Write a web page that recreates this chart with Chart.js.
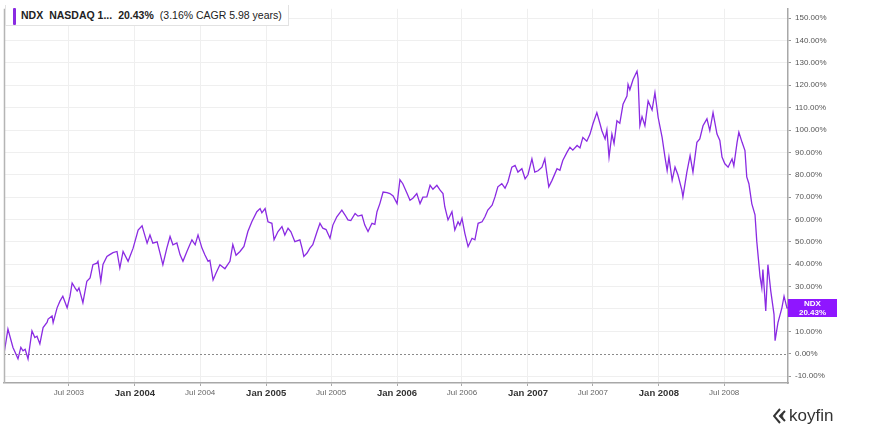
<!DOCTYPE html>
<html>
<head>
<meta charset="utf-8">
<script src="https://cdn.jsdelivr.net/npm/chart.js@4/dist/chart.umd.min.js"></script>
<style>
  body { margin: 0; background: #fff; font-family: "Liberation Sans", Arial, sans-serif; }
  #wrap { position: relative; width: 891px; height: 431px; }
  #legend {
    position: absolute; left: 5px; top: 5px; height: 20px; padding: 0 6px 0 7px;
    background: #fff; border: 1px solid #e2e2e2; border-top: none;
    font-size: 10.5px; color: #222; line-height: 20px; white-space: nowrap;
  }
  #legend .bar { display: inline-block; width: 3px; height: 17px; background: #8a2be2; vertical-align: middle; margin-right: 5px; border-radius: 1px; }
  #legend b { margin-right: 6px; }
  #logo { position: absolute; left: 773px; top: 406px; font-size: 17px; color: #333; display: flex; align-items: center; }
  #logo svg { margin-right: 2px; }
</style>
</head>
<body>
<div id="wrap">
  <canvas id="ndxChart"></canvas>
  <div id="legend"><span class="bar"></span><b>NDX</b><b>NASDAQ 1...</b><b>20.43%</b>(3.16% CAGR 5.98 years)</div>
  <div id="logo"><svg width="14" height="16" viewBox="0 0 14 16"><path d="M7 1 L1 8 L7 15 M12 3 L7 8 L12 13 M10 6 L8 8 L10 10" fill="none" stroke="#333" stroke-width="2"/></svg>koyfin</div>
</div>
<script>
/* DATA: days since 2003-01-01 and NDX % change */
var startDate = '2003-01-01';
var days = [0, 6, 11, 25, 31, 39, 47, 53, 59, 67, 78, 86, 92, 100, 109, 120, 123, 134, 137, 148,
	156, 164, 176, 184, 190, 198, 204, 209, 220, 231, 240, 248, 259, 262, 270, 276, 287, 296, 304, 315,
	323, 332, 346, 360, 374, 385, 388, 399, 407, 415, 427, 435, 443, 454, 463, 471, 482, 491, 499, 510,
	524, 533, 541, 552, 560, 569, 574, 583, 591, 602, 616, 630, 638, 647, 658, 669, 680, 691, 705, 714,
	719, 728, 736, 747, 753, 764, 775, 783, 792, 800, 811, 825, 831, 836, 845, 853, 861, 873, 881, 889,
	898, 909, 917, 928, 942, 951, 959, 967, 979, 987, 998, 1006, 1015, 1026, 1034, 1040, 1048, 1057, 1068, 1076,
	1085, 1096, 1104, 1112, 1124, 1132, 1140, 1151, 1160, 1168, 1179, 1188, 1196, 1207, 1216, 1224, 1229, 1238, 1249, 1257,
	1266, 1271, 1277, 1285, 1294, 1305, 1313, 1322, 1333, 1341, 1349, 1361, 1369, 1377, 1388, 1397, 1405, 1416, 1425, 1433,
	1444, 1453, 1461, 1472, 1480, 1489, 1500, 1508, 1514, 1519, 1528, 1542, 1550, 1558, 1570, 1578, 1586, 1598, 1606, 1614,
	1625, 1634, 1642, 1653, 1662, 1667, 1676, 1681, 1687, 1695, 1701, 1709, 1717, 1726, 1737, 1740, 1745, 1754, 1765, 1768,
	1773, 1779, 1787, 1796, 1807, 1815, 1824, 1835, 1843, 1849, 1854, 1863, 1871, 1879, 1890, 1893, 1904, 1913, 1921, 1932,
	1940, 1949, 1960, 1968, 1977, 1988, 1996, 2002, 2010, 2019, 2030, 2035, 2044, 2049, 2058, 2066, 2071, 2077, 2085, 2094,
	2099, 2108, 2113, 2116, 2124, 2130, 2138, 2147, 2150, 2158, 2169, 2175, 2183, 2186];
var ndx = [0, 6, 11, 2.8, 0.6, -2.3, 2.8, 1.3, 2.0, -2.3, 10.2, 7.2, 7.8, 4.4, 11.7, 14, 15.5, 16.9, 13.9, 20.5,
	23.5, 25.7, 20.5, 25.7, 31.6, 29.4, 28, 29.4, 22.8, 32.4, 33.9, 39.8, 40.5, 41.3, 32.4, 39.9, 43.5, 44.4, 45.2, 45.7,
	38.3, 45.7, 41.3, 47.2, 55.3, 57.2, 55.5, 49.4, 53.1, 49.4, 50, 45, 39.8, 47.2, 52.4, 48.7, 49.5, 44.2, 41.3, 45.7,
	50.9, 48.7, 53.1, 47.2, 44.2, 41.3, 41.8, 33.0, 36, 39.8, 38, 41.3, 48.8, 44, 45.7, 48, 54.6, 59, 63.5, 64.9,
	63, 64.9, 59, 58.3, 50.9, 54.6, 56.8, 53.1, 56.1, 54.5, 50.1, 50.9, 47.2, 43.5, 45, 47.2, 48.7, 54.6, 58.3, 56.1,
	55.5, 51.6, 57.5, 61.2, 64.2, 62, 59.8, 59.5, 62.7, 61.5, 62, 57.5, 54.6, 58.3, 57.8, 63.5, 67.1, 72.3, 72, 71.6,
	70.5, 67.1, 77.8, 76, 71.6, 68.6, 69.5, 71.6, 67.1, 70, 70.1, 75.3, 73.5, 75.3, 73.1, 71.6, 65.7, 59.8, 63.5, 55.3,
	59, 57.5, 60.5, 53.8, 47.9, 51.6, 50.9, 58.3, 59, 61.2, 64.2, 66.4, 70.1, 74.6, 76, 74, 76.8, 83.4, 84.2, 81.2,
	82.7, 78.2, 80, 87.1, 81.2, 81.8, 83.4, 87.1, 80, 74.6, 77.5, 82.7, 82, 86.4, 90.1, 92.3, 91, 93.1, 92, 96.7,
	95, 98.2, 102.7, 107.8, 102.7, 99.7, 96, 100, 87.9, 98.2, 94, 104.1, 103, 111.5, 115.2, 120.4, 118, 122.6, 126.3, 123,
	101.9, 106, 101.9, 113, 109, 116.7, 105.6, 96.7, 87.9, 81.9, 87.9, 77.5, 83.4, 80, 73.1, 70.1, 81.2, 88.6, 81.2, 94.5,
	96, 101.9, 105, 99.7, 107.8, 98.2, 95.3, 87.9, 84.9, 83.4, 87.1, 84, 94.5, 99, 94.5, 90.8, 79, 76, 67.1, 62.1,
	50.1, 34.6, 29.4, 37.6, 19.1, 39.8, 28, 17.6, 5.8, 13.9, 20.5, 25.7, 20.5, 20.43];
var xTickDates = ['2003-07-01', '2004-01-01', '2004-07-01', '2005-01-01', '2005-07-01', '2006-01-01',
	'2006-07-01', '2007-01-01', '2007-07-01', '2008-01-01', '2008-07-01'];
var xTickLabels = ['Jul 2003', 'Jan 2004', 'Jul 2004', 'Jan 2005', 'Jul 2005', 'Jan 2006',
	'Jul 2006', 'Jan 2007', 'Jul 2007', 'Jan 2008', 'Jul 2008'];
var yTicks = [-10, 0, 10, 20, 30, 40, 50, 60, 70, 80, 90, 100, 110, 120, 130, 140, 150];

var purple = '#8a2be2';
var t0 = Date.parse(startDate);
var xTickDays = xTickDates.map(function (d) { return Math.round((Date.parse(d) - t0) / 86400000); });
var points = days.map(function (d, i) { return { x: d, y: ndx[i] }; });

function labelFor(v) {
	var i = xTickDays.indexOf(v);
	return i >= 0 ? xTickLabels[i] : '';
}
function isJan(v) { return labelFor(v).indexOf('Jan') === 0; }

var extras = {
	id: 'extras',
	beforeDatasetsDraw: function (chart) {
		var c = chart.ctx, a = chart.chartArea, y = chart.scales.y.getPixelForValue(0);
		c.save();
		c.strokeStyle = '#8a8a8a';
		c.lineWidth = 1;
		c.setLineDash([2, 2]);
		c.beginPath();
		c.moveTo(a.left, Math.round(y) + 0.5);
		c.lineTo(a.right, Math.round(y) + 0.5);
		c.stroke();
		c.restore();
	},
	afterDraw: function (chart) {
		var c = chart.ctx, a = chart.chartArea;
		c.save();
		c.strokeStyle = '#b5b5b5';
		c.lineWidth = 1.5;
		c.beginPath();
		c.moveTo(a.left + 0.5, a.top);
		c.lineTo(a.left + 0.5, a.bottom);
		c.stroke();
		// last value label
		var last = ndx[ndx.length - 1];
		var y = chart.scales.y.getPixelForValue(last);
		c.fillStyle = '#8f16ff';
		c.fillRect(a.right, y - 9, 49, 18);
		c.fillStyle = '#fff';
		c.font = 'bold 8px "Liberation Sans", Arial, sans-serif';
		c.textAlign = 'center';
		c.textBaseline = 'middle';
		c.fillText('NDX', a.right + 24.5, y - 4);
		c.fillText(last.toFixed(2) + '%', a.right + 24.5, y + 4.5);
		c.restore();
	}
};

var ctxLine = document.getElementById('ndxChart').getContext('2d');
var ndxChart = new Chart(ctxLine, {
	type: 'line',
	data: {
		datasets: [{
			data: points,
			borderColor: purple,
			borderWidth: 1.3,
			pointRadius: 0,
			tension: 0,
			fill: false
		}]
	},
	options: {
		responsive: true,
		maintainAspectRatio: false,
		animation: false,
		layout: { padding: { left: 4, top: 5, right: 0, bottom: 0 } },
		plugins: { legend: { display: false }, tooltip: { enabled: false } },
		scales: {
			x: {
				type: 'linear',
				min: 0,
				max: days[days.length - 1],
				afterBuildTicks: function (scale) {
					scale.ticks = xTickDays.map(function (v) { return { value: v }; });
				},
				afterFit: function (scale) { scale.height = 48; },
				grid: { color: '#efefef', tickColor: '#aaa', tickLength: 3 },
				border: { color: '#a8a8a8', width: 1.5 },
				ticks: {
					autoSkip: false,
					maxRotation: 0,
					padding: 2,
					callback: function (v) { return labelFor(v); },
					color: function (ctx) { return ctx.tick && isJan(ctx.tick.value) ? '#333' : '#666'; },
					font: function (ctx) {
						return ctx.tick && isJan(ctx.tick.value)
							? { family: '"Liberation Sans", Arial, sans-serif', size: 9.5, weight: 'bold' }
							: { family: '"Liberation Sans", Arial, sans-serif', size: 8 };
					}
				}
			},
			y: {
				position: 'right',
				min: -13.1,
				max: 154.2,
				afterBuildTicks: function (scale) {
					scale.ticks = yTicks.map(function (v) { return { value: v }; });
				},
				afterFit: function (scale) { scale.width = 103; },
				grid: {
					color: function (ctx) { return ctx.tick && ctx.tick.value === 0 ? 'rgba(0,0,0,0)' : '#efefef'; },
					tickColor: '#999',
					tickLength: 3
				},
				border: { color: '#a8a8a8', width: 1.5 },
				ticks: {
					padding: 4,
					color: '#555',
					font: { family: '"Liberation Sans", Arial, sans-serif', size: 8 },
					callback: function (v) { return v.toFixed(2) + '%'; }
				}
			}
		}
	},
	plugins: [extras]
});
</script>
</body>
</html>
